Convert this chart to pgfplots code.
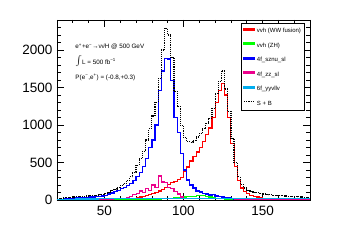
\documentclass[border=0pt]{standalone}
\usepackage{fontspec}
\setmainfont{Liberation Sans}
\usepackage{pgfplots}
\usepackage{pgfplotstable}
\pgfplotsset{compat=1.18}

% bin left edge, contents (2 GeV bins)
\pgfplotstableread{
x red green blue magenta cyan sb
20 2 2 5 5 12 20
22 2 2 10 5 12 25
24 2 2 15 5 12 30
26 2 2 18 5 12 35
28 2 2 20 6 12 38
30 2 2 22 6 12 40
32 2 2 25 6 13 42
34 2 2 28 6 13 45
36 2 2 30 7 13 48
38 3 2 35 7 13 52
40 3 2 40 8 13 58
42 3 2 40 8 13 60
44 3 2 45 8 13 65
46 4 2 50 9 14 70
48 4 2 55 10 14 78
50 5 2 60 10 14 85
52 5 2 80 10 14 105
54 6 2 95 12 14 125
56 7 2 110 15 14 145
58 8 2 130 15 14 170
60 10 3 150 20 15 195
62 12 3 170 25 15 225
64 15 3 190 35 15 260
66 20 3 220 50 15 310
68 25 4 260 70 15 370
70 35 4 310 90 15 460
72 40 5 370 120 15 550
74 50 5 450 100 15 650
76 60 6 550 150 15 800
78 70 7 700 130 15 950
80 85 8 800 200 15 1120
82 100 10 1000 170 15 1300
84 120 12 1460 320 15 1620
86 140 15 1720 240 15 2000
88 170 18 1890 230 15 2290
90 210 20 1880 170 15 2200
92 230 25 1590 150 15 1900
94 250 28 1100 110 15 1450
96 270 30 900 80 16 1250
98 300 35 620 40 16 990
100 380 40 400 25 16 830
102 440 45 265 20 16 780
104 520 50 200 20 16 770
106 580 52 160 20 16 790
108 640 55 120 18 16 840
110 700 55 105 18 16 890
112 780 55 90 18 16 950
114 870 50 80 16 16 1020
116 960 40 65 16 16 1090
118 1100 30 70 15 16 1220
120 1300 25 55 15 16 1420
122 1460 18 45 15 16 1580
124 1550 15 40 15 16 1720
126 1400 12 35 14 16 1480
128 1100 10 30 14 16 1180
130 750 8 20 14 16 820
132 450 6 15 13 16 500
134 260 5 10 13 16 310
136 160 4 8 13 16 210
138 110 4 6 13 16 160
140 85 3 5 12 16 130
142 65 3 5 12 16 115
144 50 3 5 12 16 105
146 40 3 4 12 16 95
148 30 2 4 12 16 88
150 25 2 4 11 16 80
152 20 2 3 11 16 75
154 15 2 3 11 16 70
156 12 2 3 11 16 65
158 10 2 3 10 16 62
160 10 2 3 10 16 60
162 8 2 2 10 16 56
164 8 2 2 10 16 52
166 7 2 2 10 16 50
168 6 2 2 10 16 48
170 5 2 2 10 16 46
172 5 2 2 10 16 43
174 5 2 2 10 16 40
176 4 2 2 10 16 38
178 4 2 2 10 16 36
180 4 2 2 10 16 36
}\histdata

\begin{document}
\begin{tikzpicture}
\begin{axis}[
  scale only axis,
  width=253pt, height=180pt,
  xmin=20, xmax=180, ymin=0, ymax=2400,
  axis line style={line width=0.9pt},
  xtick={50,100,150}, ytick={0,500,1000,1500,2000},
  minor xtick={20,30,...,180},
  minor ytick={0,100,...,2400},
  tick align=inside,
  major tick length=7pt, minor tick length=3.5pt,
  every tick/.style={black, line width=0.7pt},
  /pgf/number format/assume math mode=true,
  /pgf/number format/1000 sep={},
  ticklabel style={font=\fontsize{13.5}{14}\selectfont},
  xticklabel style={yshift=-3pt},
  yticklabel style={xshift=-1pt},
  legend style={at={(0.98,0.983)}, anchor=north east,
    font=\fontsize{6}{7}\selectfont, line width=0.9pt,
    inner xsep=2pt, inner ysep=3pt, row sep=5.6pt,
    nodes={inner sep=1.5pt, text height=4.6pt, text depth=1.3pt}},
  legend cell align=left,
  every axis plot/.append style={const plot, line width=1.1pt, mark=none},
]
\addlegendimage{legend image code/.code={\fill[red] (0pt,0.9pt) rectangle (11pt,2.5pt);}}
\addlegendentry{vvh (WW fusion)}
\addlegendimage{legend image code/.code={\fill[green] (0pt,0.9pt) rectangle (11pt,2.5pt);}}
\addlegendentry{vvh (ZH)}
\addlegendimage{legend image code/.code={\fill[blue] (0pt,0.9pt) rectangle (11pt,2.5pt);}}
\addlegendentry{4f\_sznu\_sl}
\addlegendimage{legend image code/.code={\fill[magenta] (0pt,0.9pt) rectangle (11pt,2.5pt);}}
\addlegendentry{4f\_zz\_sl}
\addlegendimage{legend image code/.code={\fill[cyan] (0pt,0.9pt) rectangle (11pt,2.5pt);}}
\addlegendentry{6f\_yyvllv}
\addlegendimage{legend image code/.code={\draw[black, line width=1.3pt, densely dotted] (0pt,1.7pt) -- (11pt,1.7pt);}}
\addlegendentry{S + B}

\addplot[red, forget plot] table[x=x, y=red] {\histdata};
\addplot[green, forget plot] table[x=x, y=green] {\histdata};
\addplot[blue, line width=1.3pt, forget plot] table[x=x, y=blue] {\histdata};
\addplot[magenta, forget plot] table[x=x, y=magenta] {\histdata};
\addplot[cyan, forget plot] table[x=x, y=cyan] {\histdata};
\addplot[black, densely dotted, line width=1.2pt, forget plot] table[x=x, y=sb] {\histdata};

\node[anchor=base west, font=\fontsize{6.3}{7}\selectfont] at (axis description cs:0.059,0.84)
  {e\textsuperscript{+}+e\textsuperscript{−}→ν\={ν}H @ 500 GeV};
\node[anchor=base west, font=\fontsize{6.3}{7}\selectfont] at (axis description cs:0.059,0.755)
  {{\fontsize{11}{12}\selectfont$\int$}L = 500 fb\textsuperscript{−1}};
\node[anchor=base west, font=\fontsize{6.3}{7}\selectfont] at (axis description cs:0.059,0.672)
  {P(e\textsuperscript{−},e\textsuperscript{+}) = (-0.8,+0.3)};
\node[anchor=base east, font=\fontsize{15}{16}\selectfont] at ([yshift=-30.5pt]axis description cs:1,0)
  {M(H) / GeV};
\node[anchor=base, rotate=90, font=\fontsize{14}{15}\selectfont] at ([xshift=-33pt]axis description cs:0,0.492)
  {Entries};
\end{axis}
\pgfresetboundingbox
\path[use as bounding box] ([shift={(-57pt,-45pt)}]current axis.south west) rectangle ++(338pt,245pt);
\end{tikzpicture}
\end{document}
